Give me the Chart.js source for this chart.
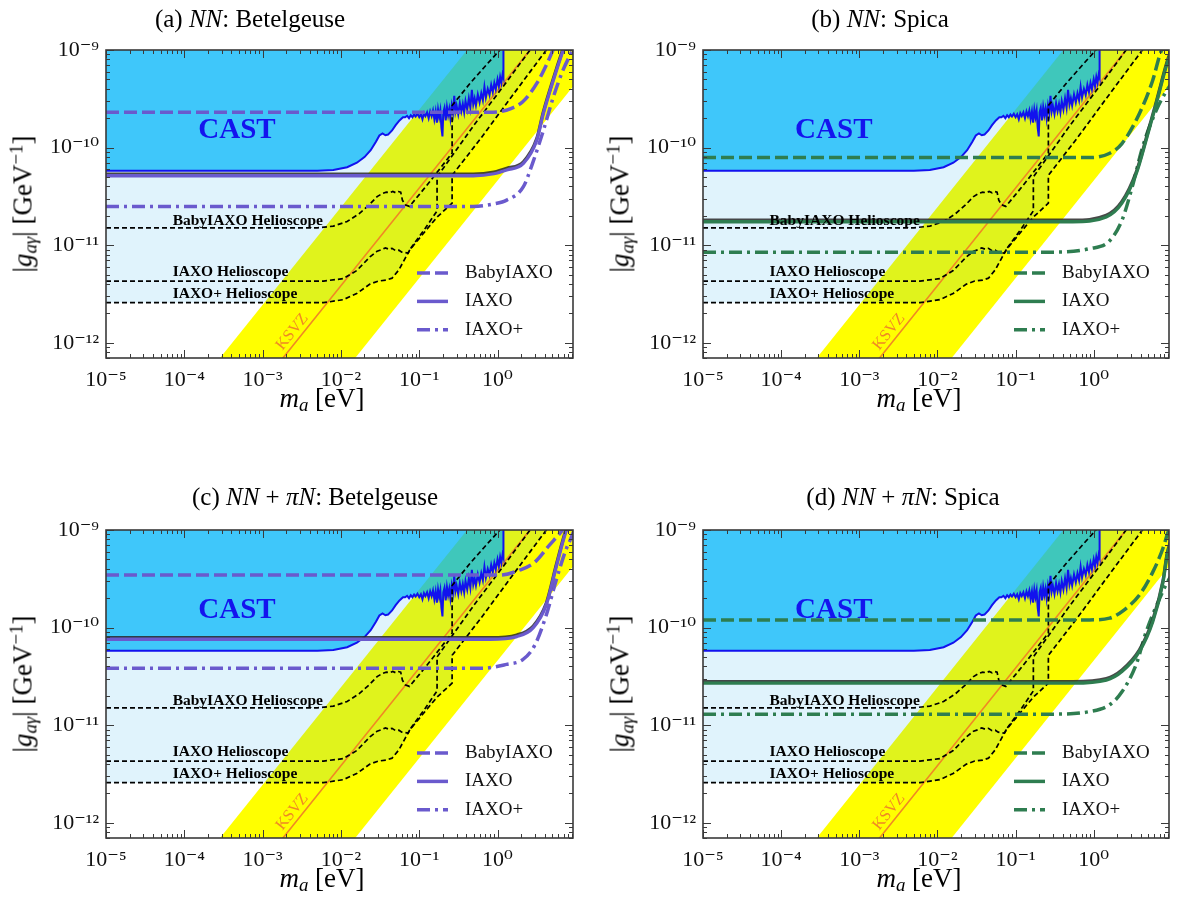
<!DOCTYPE html>
<html><head><meta charset="utf-8">
<script src="https://cdn.jsdelivr.net/npm/chart.js@4.4.1/dist/chart.umd.min.js"></script>
<style>
html,body{margin:0;padding:0;background:#fff;overflow:hidden;}
#wrap{position:relative;width:1182px;height:907px;}
canvas{position:absolute;}
.t{position:absolute;font-family:'Liberation Serif','DejaVu Serif',serif;color:#000;white-space:nowrap;line-height:1;}
.title{font-size:25px;transform:translate(-50%,-50%);}
.xl{font-size:27px;transform:translate(-50%,-50%);}
.yl{font-size:27px;transform:translate(-50%,-50%) rotate(-90deg);}
.sb{font-size:70%;vertical-align:-0.25em;}
.sp{font-size:70%;vertical-align:0.5em;}
</style></head>
<body><div id="wrap">
<canvas id="cA" width="590" height="410" style="left:0px;top:0px;"></canvas>
<canvas id="cB" width="585" height="410" style="left:597px;top:0px;"></canvas>
<canvas id="cC" width="590" height="410" style="left:0px;top:480px;"></canvas>
<canvas id="cD" width="585" height="410" style="left:597px;top:480px;"></canvas>

<div class="t title" style="left:250px;top:18px;">(a) <i>NN</i>: Betelgeuse</div>
<div class="t title" style="left:880px;top:18px;">(b) <i>NN</i>: Spica</div>
<div class="t title" style="left:315px;top:496px;">(c) <i>NN</i> + <i>πN</i>: Betelgeuse</div>
<div class="t title" style="left:903px;top:496px;">(d) <i>NN</i> + <i>πN</i>: Spica</div>

<div class="t xl" style="left:322px;top:400px;"><i>m</i><span class="sb"><i>a</i></span> [eV]</div>
<div class="t xl" style="left:919px;top:400px;"><i>m</i><span class="sb"><i>a</i></span> [eV]</div>
<div class="t xl" style="left:322px;top:880px;"><i>m</i><span class="sb"><i>a</i></span> [eV]</div>
<div class="t xl" style="left:919px;top:880px;"><i>m</i><span class="sb"><i>a</i></span> [eV]</div>

<div class="t yl" style="left:24px;top:204px;">|<i>g</i><span class="sb"><i>aγ</i></span>| [GeV<span class="sp">−1</span>]</div>
<div class="t yl" style="left:621px;top:204px;">|<i>g</i><span class="sb"><i>aγ</i></span>| [GeV<span class="sp">−1</span>]</div>
<div class="t yl" style="left:24px;top:684px;">|<i>g</i><span class="sb"><i>aγ</i></span>| [GeV<span class="sp">−1</span>]</div>
<div class="t yl" style="left:621px;top:684px;">|<i>g</i><span class="sb"><i>aγ</i></span>| [GeV<span class="sp">−1</span>]</div>
</div>
<script>
// ---------------- data ----------------
const xTickValues = [1e-5, 1e-4, 1e-3, 1e-2, 1e-1, 1];
const xTickLabels = ['10⁻⁵', '10⁻⁴', '10⁻³', '10⁻²', '10⁻¹', '10⁰'];
const yTickValues = [1e-12, 1e-11, 1e-10, 1e-9];
const yTickLabels = ['10⁻¹²', '10⁻¹¹', '10⁻¹⁰', '10⁻⁹'];

// QCD axion (yellow) band edges and KSVZ line
const bandM = [1e-4, 20];
const bandUpperG = [2.45e-13, 4.9e-8];
const bandLowerG = [4.6e-15, 9.2e-10];
const ksvzM = [1e-4, 20];
const ksvzG = [3.85e-14, 7.7e-9];

// CAST exclusion limit
const castM = [1e-5, 5e-3, 8e-3, 0.012, 0.016, 0.02, 0.024, 0.028, 0.031, 0.034, 0.037, 0.04, 0.045, 0.05, 0.056, 0.062,
  0.066, 0.07, 0.074, 0.078, 0.082, 0.086, 0.09, 0.095, 0.1, 0.105, 0.11, 0.115, 0.12, 0.126, 0.132, 0.138, 0.144, 0.15,
  0.156, 0.162, 0.168, 0.174, 0.18, 0.186, 0.192, 0.198, 0.203, 0.21, 0.218, 0.226, 0.234, 0.242, 0.25, 0.26, 0.27, 0.28,
  0.29, 0.3, 0.315, 0.33, 0.345, 0.36, 0.375, 0.39, 0.41, 0.43, 0.45, 0.47, 0.49, 0.51, 0.53, 0.56, 0.59, 0.62, 0.65, 0.68,
  0.71, 0.75, 0.79, 0.83, 0.87, 0.91, 0.95, 1.0, 1.04, 1.08, 1.12, 1.16, 1.19, 1.19];
const castG = [5.8e-11, 5.8e-11, 5.9e-11, 6.3e-11, 7.0e-11, 8.0e-11, 9.4e-11, 1.15e-10, 1.33e-10, 1.4e-10, 1.34e-10, 1.36e-10, 1.5e-10, 1.7e-10, 1.9e-10, 2.05e-10,
  2.05e-10, 2.12e-10, 2.0e-10, 2.15e-10, 2.05e-10, 2.18e-10, 2.08e-10, 2.22e-10, 2.05e-10, 2.2e-10, 1.95e-10, 2.25e-10, 2.1e-10, 2.3e-10, 2.0e-10, 2.35e-10, 2.1e-10, 2.4e-10,
  1.95e-10, 2.35e-10, 1.8e-10, 2.45e-10, 2.05e-10, 2.4e-10, 1.6e-10, 1.3e-10, 2.3e-10, 2.55e-10, 1.9e-10, 2.6e-10, 2.15e-10, 2.5e-10, 2.0e-10, 2.7e-10, 2.25e-10, 3.4e-10,
  2.35e-10, 2.7e-10, 2.2e-10, 2.85e-10, 2.35e-10, 2.8e-10, 2.3e-10, 3.0e-10, 2.45e-10, 3.2e-10, 2.55e-10, 3.9e-10, 2.75e-10, 3.2e-10, 2.7e-10, 3.5e-10, 2.9e-10, 3.6e-10, 3.05e-10, 4.2e-10,
  3.25e-10, 4.0e-10, 3.45e-10, 4.4e-10, 3.7e-10, 4.6e-10, 3.95e-10, 5.0e-10, 4.25e-10, 5.3e-10, 4.6e-10, 5.6e-10, 5.2e-10, 1.5e-9];

// Helioscope projections (black dashed)
const helioBabyM = [1e-5, 5e-3, 8e-3, 0.012, 0.017, 0.023, 0.029, 0.034, 0.038, 0.042, 0.046, 0.05, 0.054, 0.058, 0.061, 0.066, 0.075, 0.1, 0.14, 0.19, 0.263, 0.263, 0.45, 0.75, 1.07, 1.5];
const helioBabyG = [1.51e-11, 1.51e-11, 1.57e-11, 1.75e-11, 2.1e-11, 2.6e-11, 3.15e-11, 3.4e-11, 3.5e-11, 3.45e-11, 3.55e-11, 3.45e-11, 3.55e-11, 3.5e-11, 2.9e-11, 2.6e-11, 2.5e-11, 3.3e-11, 4.6e-11, 6.3e-11, 8.8e-11, 2.7e-10, 4.6e-10, 7.3e-10, 1e-9, 1.4e-9];
const helioIaxoM = [1e-5, 6e-3, 0.0107, 0.0159, 0.0235, 0.029, 0.033, 0.037, 0.041, 0.045, 0.05, 0.055, 0.06, 0.066, 0.072, 0.08, 0.12, 0.169, 0.169, 0.5, 1.2, 2.6, 3.5];
const helioIaxoG = [4.3e-12, 4.3e-12, 4.55e-12, 5.5e-12, 7.6e-12, 8.7e-12, 9.0e-12, 9.4e-12, 9.1e-12, 9.3e-12, 8.8e-12, 8.9e-12, 8.5e-12, 8.4e-12, 8.3e-12, 9.6e-12, 1.5e-11, 2.25e-11, 5e-11, 1.7e-10, 4.3e-10, 1e-9, 1.35e-9];
const helioPlusM = [1e-5, 6e-3, 0.0107, 0.0159, 0.0235, 0.03, 0.038, 0.045, 0.055, 0.076, 0.12, 0.17, 0.263, 0.263, 0.6, 1.5, 4.2, 6];
const helioPlusG = [2.58e-12, 2.58e-12, 2.77e-12, 3.2e-12, 4.0e-12, 4.3e-12, 4.4e-12, 4.6e-12, 5.6e-12, 9.0e-12, 1.4e-11, 1.95e-11, 2.7e-11, 5.2e-11, 1.22e-10, 3.3e-10, 1e-9, 1.45e-9];

// (a) NN: Betelgeuse
const aBabyM = [1e-5, 0.8, 1.1, 1.45, 2.1, 3.2, 4.3, 5.1, 6.5];
const aBabyG = [2.3e-10, 2.3e-10, 2.35e-10, 2.5e-10, 2.95e-10, 4.6e-10, 7.3e-10, 1e-9, 1.6e-9];
const aIaxoM = [1e-5, 0.49, 0.9, 1.31, 2.14, 3.17, 3.85, 5.16, 6.9, 8];
const aIaxoG = [5.15e-11, 5.15e-11, 5.4e-11, 5.9e-11, 6.9e-11, 1.19e-10, 2.24e-10, 4.9e-10, 1e-9, 1.4e-9];
const aPlusM = [1e-5, 0.49, 0.9, 1.31, 2.14, 2.8, 3.85, 5.16, 6.9, 8.7, 10];
const aPlusG = [2.5e-11, 2.5e-11, 2.65e-11, 2.9e-11, 3.98e-11, 6.9e-11, 1.5e-10, 3.3e-10, 6.3e-10, 9.3e-10, 1.2e-9];
// (b) NN: Spica
const bBabyM = [1e-5, 0.87, 1.58, 2.3, 3.85, 5.7, 6.9, 8];
const bBabyG = [7.9e-11, 7.9e-11, 8.7e-11, 1.1e-10, 2.24e-10, 4.9e-10, 8.5e-10, 1.2e-9];
const bIaxoM = [1e-5, 0.54, 1.45, 2.3, 3.5, 4.7, 6.3, 8.7, 10];
const bIaxoG = [1.74e-11, 1.74e-11, 1.95e-11, 2.7e-11, 5.4e-11, 1.2e-10, 2.8e-10, 7.3e-10, 1e-9];
const bPlusM = [1e-5, 0.33, 0.87, 1.58, 2.3, 3.2, 4.2, 6.3, 8.7, 10];
const bPlusG = [8.5e-12, 8.5e-12, 9.2e-12, 1.1e-11, 1.8e-11, 4.3e-11, 1.0e-10, 2.4e-10, 3.9e-10, 4.6e-10];
// (c) NN + piN: Betelgeuse
const cBabyM = [1e-5, 1.07, 1.94, 3.0, 4.6, 6.3, 8];
const cBabyG = [3.45e-10, 3.45e-10, 3.9e-10, 4.7e-10, 7.0e-10, 9.3e-10, 1.2e-9];
const cIaxoM = [1e-5, 0.8, 1.76, 2.86, 4.2, 5.7, 7.6, 9];
const cIaxoG = [7.6e-11, 7.6e-11, 8.1e-11, 1.0e-10, 1.72e-10, 4.4e-10, 1e-9, 1.3e-9];
const cPlusM = [1e-5, 0.65, 1.3, 2.1, 3.0, 4.2, 5.7, 7.6, 8.7, 10];
const cPlusG = [3.84e-11, 3.84e-11, 4.2e-11, 4.7e-11, 6.65e-11, 1.35e-10, 3.2e-10, 6.5e-10, 8.3e-10, 1.1e-9];
// (d) NN + piN: Spica
const dBabyM = [1e-5, 0.88, 1.6, 2.3, 3.85, 5.7, 7.7, 8.7, 10];
const dBabyG = [1.2e-10, 1.2e-10, 1.25e-10, 1.46e-10, 2.16e-10, 3.7e-10, 6.5e-10, 8.9e-10, 1.2e-9];
const dIaxoM = [1e-5, 0.54, 1.45, 2.3, 3.85, 5.7, 7.7, 8.7, 10];
const dIaxoG = [2.7e-11, 2.7e-11, 2.9e-11, 3.55e-11, 5.7e-11, 1.15e-10, 2.9e-10, 5.5e-10, 8e-10];
const dPlusM = [1e-5, 0.33, 0.88, 1.6, 2.3, 3.5, 4.7, 7.0, 8.7, 10];
const dPlusG = [1.3e-11, 1.3e-11, 1.38e-11, 1.62e-11, 2.2e-11, 4.2e-11, 9.1e-11, 2.0e-10, 2.9e-10, 3.5e-10];

const legendLabels = ['BabyIAXO', 'IAXO', 'IAXO+'];
const helioLabels = ['BabyIAXO Helioscope', 'IAXO Helioscope', 'IAXO+ Helioscope'];

// ---------------- drawing ----------------
const FONT = "'Liberation Serif','DejaVu Serif',serif";
const X_MIN = 1e-5, X_MAX = 9.2, Y_MIN = 7.0e-13, Y_MAX = 1e-9;
const DASH = [13, 5], DASHDOT = [13, 5, 3, 5];

function pts(m, g) { return m.map((v, i) => ({x: v, y: g[i]})); }

const decor = {
  id: 'decor',
  beforeDatasetDraw(chart, args) {
    if (args.index === 1) {
      const ctx = chart.ctx;
      ctx.shadowColor = 'rgba(40,40,40,0.85)';
      ctx.shadowOffsetX = 0; ctx.shadowOffsetY = -1.6; ctx.shadowBlur = 0;
    }
  },
  afterDatasetDraw(chart, args) {
    if (args.index === 1) {
      const ctx = chart.ctx;
      ctx.shadowColor = 'rgba(0,0,0,0)'; ctx.shadowOffsetY = 0;
    }
  },
  afterDatasetsDraw(chart, args, o) {
    const ctx = chart.ctx, xs = chart.scales.x, ys = chart.scales.y, a = chart.chartArea;
    ctx.save();
    ctx.beginPath(); ctx.rect(a.left, a.top, a.right - a.left, a.bottom - a.top); ctx.clip();
    // CAST label
    ctx.fillStyle = '#1414ee';
    ctx.font = 'bold 29px ' + FONT;
    ctx.textBaseline = 'alphabetic'; ctx.textAlign = 'left';
    ctx.fillText('CAST', xs.getPixelForValue(1.51e-4), ys.getPixelForValue(1.26e-10));
    // Helioscope labels
    ctx.fillStyle = '#000';
    ctx.font = 'bold 15.5px ' + FONT;
    const hl = [1.63e-11, 4.87e-12, 2.9e-12];
    helioLabels.forEach((t, i) => ctx.fillText(t, xs.getPixelForValue(7.1e-5), ys.getPixelForValue(hl[i])));
    // KSVZ label
    ctx.save();
    ctx.translate(xs.getPixelForValue(2.4e-3), ys.getPixelForValue(1.3e-12));
    const ang = Math.atan2(ys.getPixelForValue(1e-12) - ys.getPixelForValue(1e-11), xs.getPixelForValue(1e-2) - xs.getPixelForValue(1e-3));
    ctx.rotate(-ang);
    ctx.fillStyle = 'rgb(240,136,36)';
    ctx.font = '16px ' + FONT;
    ctx.textAlign = 'center'; ctx.textBaseline = 'middle';
    ctx.fillText('KSVZ', 0, 0);
    ctx.restore();
    // legend
    const styles = [DASH, [], DASHDOT];
    ctx.font = '19px ' + FONT;
    ctx.textAlign = 'left'; ctx.textBaseline = 'middle';
    legendLabels.forEach((t, i) => {
      const y = a.top + 223 + i * 28.4;
      ctx.strokeStyle = o.color; ctx.lineWidth = 3.5; ctx.setLineDash(styles[i]);
      ctx.beginPath(); ctx.moveTo(a.left + 311, y); ctx.lineTo(a.left + 342, y); ctx.stroke();
      ctx.setLineDash([]);
      ctx.fillStyle = '#111';
      ctx.fillText(t, a.left + 359, y);
    });
    ctx.restore();
  },
  afterDraw(chart) {
    const ctx = chart.ctx, xs = chart.scales.x, ys = chart.scales.y, a = chart.chartArea;
    ctx.save();
    ctx.strokeStyle = '#3a3a3a'; ctx.lineWidth = 1;
    ctx.beginPath();
    for (let k = -6; k <= 1; k++) for (let j = 1; j <= 9; j++) {
      const v = j * Math.pow(10, k);
      if (v < X_MIN * 0.999 || v > X_MAX) continue;
      const px = Math.round(xs.getPixelForValue(v)) + 0.5, L = j === 1 ? 8 : 4;
      ctx.moveTo(px, a.bottom); ctx.lineTo(px, a.bottom - L);
      ctx.moveTo(px, a.top); ctx.lineTo(px, a.top + L);
    }
    for (let k = -13; k <= -9; k++) for (let j = 1; j <= 9; j++) {
      const v = j * Math.pow(10, k);
      if (v < Y_MIN || v > Y_MAX * 1.001) continue;
      const py = Math.round(ys.getPixelForValue(v)) + 0.5, L = j === 1 ? 8 : 4;
      ctx.moveTo(a.left, py); ctx.lineTo(a.left + L, py);
      ctx.moveTo(a.right, py); ctx.lineTo(a.right - L, py);
    }
    ctx.stroke();
    ctx.lineWidth = 1.6;
    ctx.strokeRect(a.left, a.top, a.right - a.left, a.bottom - a.top);
    ctx.restore();
  }
};

function makePanel(id, padR, color, baby, iaxo, plus) {
  const datasets = [
    // projections (top)
    {data: pts(baby[0], baby[1]), borderColor: color, borderWidth: 3.5, borderDash: DASH, cubicInterpolationMode: 'monotone', order: 1},
    {data: pts(iaxo[0], iaxo[1]), borderColor: color, borderWidth: 3.3, cubicInterpolationMode: 'monotone', order: 2},
    {data: pts(plus[0], plus[1]), borderColor: color, borderWidth: 3.5, borderDash: DASHDOT, cubicInterpolationMode: 'monotone', order: 3},
    // helioscopes
    {data: pts(helioBabyM, helioBabyG), borderColor: '#000', borderWidth: 1.7, borderDash: [5, 3], order: 5},
    {data: pts(helioIaxoM, helioIaxoG), borderColor: '#000', borderWidth: 1.7, borderDash: [5, 3], order: 5},
    {data: pts(helioPlusM, helioPlusG), borderColor: '#000', borderWidth: 1.7, borderDash: [5, 3], order: 5},
    // CAST
    {data: pts(castM, castG), borderColor: '#1212ee', borderWidth: 2, fill: 'end', backgroundColor: 'rgba(0,181,249,0.72)', order: 6},
    // KSVZ
    {data: pts(ksvzM, ksvzG), borderColor: 'rgb(240,136,36)', borderWidth: 1.6, order: 7},
    // helioscope sensitivity region (pale)
    {data: pts(helioPlusM, helioPlusG), borderWidth: 0, fill: 'end', backgroundColor: 'rgba(0,160,230,0.12)', order: 8},
    // band
    {data: pts(bandM, bandUpperG), borderWidth: 0, fill: '+1', backgroundColor: '#ffff00', order: 10},
    {data: pts(bandM, bandLowerG), borderWidth: 0, fill: false, order: 9}
  ];
  datasets.forEach(d => { d.pointRadius = 0; d.tension = d.tension || 0; if (d.fill === undefined) d.fill = false; });
  return new Chart(document.getElementById(id), {
    type: 'line',
    data: {datasets},
    options: {
      responsive: false, animation: false, events: [],
      layout: {padding: {top: 50, right: padR, left: 0, bottom: 0}},
      plugins: {legend: {display: false}, tooltip: {enabled: false}, decor: {color}},
      scales: {
        x: {
          type: 'logarithmic', min: X_MIN, max: X_MAX,
          afterBuildTicks: s => { s.ticks = xTickValues.map(v => ({value: v})); },
          afterFit: s => { s.height = 52; },
          ticks: {autoSkip: false, maxRotation: 0, padding: 9, color: '#111',
            font: {family: FONT, size: 22}, callback: (v, i) => xTickLabels[i]},
          grid: {display: false, drawTicks: false}, border: {display: false}
        },
        y: {
          type: 'logarithmic', min: Y_MIN, max: Y_MAX,
          afterBuildTicks: s => { s.ticks = yTickValues.map(v => ({value: v})); },
          afterFit: s => { s.width = 106; },
          ticks: {autoSkip: false, padding: 7, color: '#111',
            font: {family: FONT, size: 22}, callback: (v, i) => yTickLabels[i]},
          grid: {display: false, drawTicks: false}, border: {display: false}
        }
      }
    },
    plugins: [decor]
  });
}

makePanel('cA', 17, '#6a5acd', [aBabyM, aBabyG], [aIaxoM, aIaxoG], [aPlusM, aPlusG]);
makePanel('cB', 13, '#2e7d50', [bBabyM, bBabyG], [bIaxoM, bIaxoG], [bPlusM, bPlusG]);
makePanel('cC', 17, '#6a5acd', [cBabyM, cBabyG], [cIaxoM, cIaxoG], [cPlusM, cPlusG]);
makePanel('cD', 13, '#2e7d50', [dBabyM, dBabyG], [dIaxoM, dIaxoG], [dPlusM, dPlusG]);
</script>
</body></html>
